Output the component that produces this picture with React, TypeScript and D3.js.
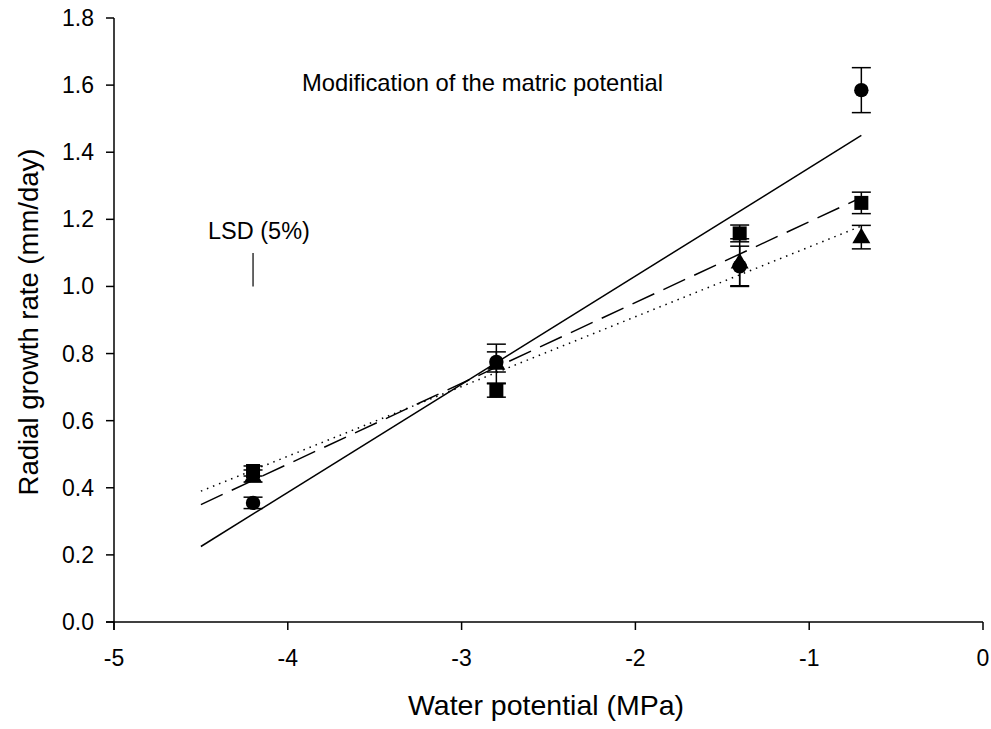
import React from "react";
import * as d3 from "d3";

const xs = [-4.2, -2.8, -1.4, -0.7];
const circleVals = [0.355, 0.775, 1.06, 1.585];
const circleErr = [0.017, 0.03, 0.06, 0.067];
const squareVals = [0.45, 0.69, 1.158, 1.249];
const squareErr = [0.015, 0.02, 0.025, 0.032];
const triangleVals = [0.435, 0.77, 1.072, 1.147];
const triangleErr = [0.018, 0.058, 0.07, 0.035];

const fitX = [-4.5, -0.7];
const solidFit = [0.225, 1.45];
const dashedFit = [0.35, 1.265];
const dottedFit = [0.39, 1.18];

const xTicks = [-5, -4, -3, -2, -1, 0];
const yTicks = [0, 0.2, 0.4, 0.6, 0.8, 1.0, 1.2, 1.4, 1.6, 1.8];

const lsdX = -4.2;
const lsdRange = [1.0, 1.1];

export default function App() {
  const W = 991, H = 729;
  const x = d3.scaleLinear().domain([-5, 0]).range([114, 983]);
  const y = d3.scaleLinear().domain([0, 1.8]).range([622, 18]);
  const font = "Arial, 'Liberation Sans', sans-serif";
  const line = d3.line<[number, number]>().x(d => x(d[0])).y(d => y(d[1]));
  const capW = 9.5;

  const errBars = (vals: number[], errs: number[], key: string) =>
    xs.map((xv, i) => {
      const cx = x(xv);
      const y1 = y(vals[i] + errs[i]);
      const y2 = y(vals[i] - errs[i]);
      return (
        <g key={key + i} stroke="#000" strokeWidth={1.5}>
          <line x1={cx} x2={cx} y1={y1} y2={y2} />
          <line x1={cx - capW} x2={cx + capW} y1={y1} y2={y1} />
          <line x1={cx - capW} x2={cx + capW} y1={y2} y2={y2} />
        </g>
      );
    });

  const triPath = d3.symbol().type(d3.symbolTriangle).size(140)();

  return (
    <svg width={W} height={H} style={{ display: "block", position: "absolute", left: 0, top: 0 }}>
      <rect width={W} height={H} fill="#fff" />
      {/* fit lines */}
      <path d={line([[fitX[0], solidFit[0]], [fitX[1], solidFit[1]]])!} stroke="#000" strokeWidth={1.5} fill="none" />
      <path d={line([[fitX[0], dashedFit[0]], [fitX[1], dashedFit[1]]])!} stroke="#000" strokeWidth={1.5} fill="none" strokeDasharray="24 10" />
      <path d={line([[fitX[0], dottedFit[0]], [fitX[1], dottedFit[1]]])!} stroke="#000" strokeWidth={1.5} fill="none" strokeDasharray="1.5 5" />

      {errBars(circleVals, circleErr, "c")}
      {errBars(squareVals, squareErr, "s")}
      {errBars(triangleVals, triangleErr, "t")}

      {xs.map((xv, i) => (
        <circle key={"cc" + i} cx={x(xv)} cy={y(circleVals[i])} r={7.2} fill="#000" />
      ))}
      {xs.map((xv, i) => (
        <rect key={"sq" + i} x={x(xv) - 7} y={y(squareVals[i]) - 7} width={14} height={14} fill="#000" />
      ))}
      {xs.map((xv, i) => (
        <path key={"tr" + i} d={triPath!} transform={`translate(${x(xv)},${y(triangleVals[i]) + 1})`} fill="#000" />
      ))}

      {/* LSD */}
      <line x1={x(lsdX)} x2={x(lsdX)} y1={y(lsdRange[0])} y2={y(lsdRange[1])} stroke="#000" strokeWidth={1.2} />
      <text x={208} y={239} fontFamily={font} fontSize={23.5}>LSD (5%)</text>

      <text x={302} y={91} fontFamily={font} fontSize={23.6} textLength={361} lengthAdjust="spacingAndGlyphs">Modification of the matric potential</text>

      {/* axes */}
      <line x1={114} x2={114} y1={18} y2={630} stroke="#000" strokeWidth={1.5} />
      <line x1={106} x2={983} y1={622} y2={622} stroke="#000" strokeWidth={1.5} />
      {yTicks.map(t => (
        <g key={"yt" + t}>
          <line x1={106} x2={114} y1={y(t)} y2={y(t)} stroke="#000" strokeWidth={1.5} />
          <text x={94} y={y(t) + 8} textAnchor="end" fontFamily={font} fontSize={23}>{t.toFixed(1)}</text>
        </g>
      ))}
      {xTicks.map(t => (
        <g key={"xt" + t}>
          <line x1={x(t)} x2={x(t)} y1={622} y2={630} stroke="#000" strokeWidth={1.5} />
          <text x={x(t)} y={666} textAnchor="middle" fontFamily={font} fontSize={23}>{t}</text>
        </g>
      ))}
      <text x={546} y={715} textAnchor="middle" fontFamily={font} fontSize={28.5}>Water potential (MPa)</text>
      <text transform={`translate(38,322) rotate(-90)`} textAnchor="middle" fontFamily={font} fontSize={27.5}>Radial growth rate (mm/day)</text>
    </svg>
  );
}
